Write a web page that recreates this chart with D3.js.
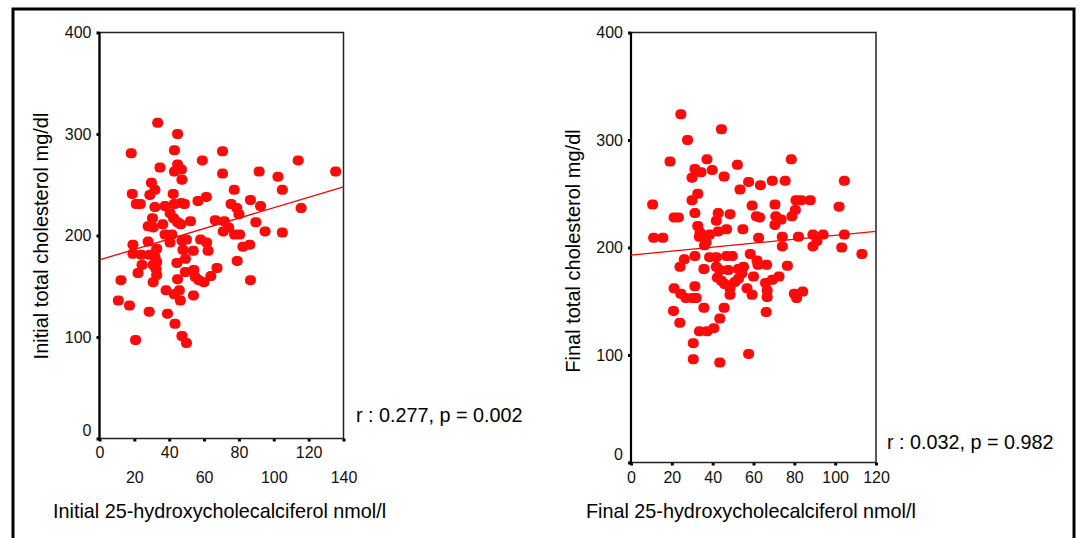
<!DOCTYPE html>
<html>
<head>
<meta charset="utf-8">
<script src="https://cdn.jsdelivr.net/npm/d3@7"></script>
<style>
  body { margin: 0; background: #fff; }
  svg { display: block; font-family: "Liberation Sans", Arial, sans-serif; }
</style>
</head>
<body>
<svg id="drawing_region"></svg>
<script>
// initial measurement: 25-hydroxycholecalciferol (nmol/l) vs total cholesterol (mg/dl)
const initVitD = [33.4, 44.8, 18.2, 43, 70.6, 59, 114, 34.7, 44.8, 47, 43, 70.6, 91.6, 102.4, 135.5, 47.3, 29.8, 31.8, 18.8, 42.3,
  77.3, 104.9, 28.9, 61.3, 56.5, 86.6, 21.1, 23.4, 31.8, 37.6, 42.9, 47, 48.7, 75.5, 78.8, 92.4, 80, 115.7, 40.5, 30.4,
  42.5, 44.8, 46.6, 52.2, 66.4, 71.6, 89.7, 27.9, 30.8, 36.3, 74.1, 71, 95, 104.9, 37.6, 41.5, 77.5, 80.4, 19.2, 27.9,
  32.8, 40.5, 47.3, 49.9, 58, 61.5, 62.3, 53.8, 47.9, 82.3, 86.2, 19.2, 24, 28.9, 31.8, 49.3, 44.4, 24.4, 30.8, 32.8,
  79, 22.1, 32.4, 32.8, 67.4, 49.3, 54.1, 44.8, 55, 57, 59.9, 63.9, 12.3, 30.8, 86.6, 38.2, 42.9, 45.8, 53.9, 46.4,
  10.8, 17.2, 28.5, 39, 43.3, 47.3, 49.9, 20.7];
const initChol = [311, 300, 281, 284, 283, 274, 274, 267, 270, 265, 263, 261, 263, 258, 263, 255, 252, 245, 241, 241,
  245, 245, 240, 238, 234, 235, 231, 231, 228, 229, 231, 232, 231, 231, 227, 229, 221, 227, 222, 217,
  217, 213, 211, 214, 215, 214, 213, 209, 208, 211, 208, 204, 204, 203, 201, 201, 201, 201, 191, 194,
  187, 193, 195, 196, 196, 193, 185, 185, 186, 189, 191, 182, 181, 181, 179, 177, 173, 171, 171, 174,
  175, 163, 167, 161, 168, 164, 166, 157, 159, 156, 154, 160, 156, 154, 156, 146, 142, 146, 141, 136,
  136, 131, 125, 123, 113, 101, 94, 97];

// final measurement
const finalVitD = [24.4, 44.3, 27.7, 19.1, 37.2, 52.1, 78.5, 31.3, 34.3, 39.8, 45.6, 29.9, 57.6, 63.4, 69.2, 75.5, 104.5, 53.4, 32.7, 29.9,
  10.6, 59.3, 70.5, 80.8, 83.3, 87.8, 101.9, 80.5, 31.3, 21.1, 23.2, 42.7, 48.5, 41.8, 61.4, 63, 70.9, 73.5, 78.8, 32.7,
  33.8, 38.5, 42.7, 46.8, 54.8, 70.5, 11.1, 15.6, 62.5, 74.1, 82, 89.1, 94.1, 104.5, 33.5, 36.8, 36, 74.1, 89.1, 91.1,
  103.2, 113.1, 26.1, 24, 31.3, 35.7, 38.5, 41.8, 46.8, 49.6, 58.4, 61.7, 62.2, 66.4, 76.6, 41.8, 43.5, 47.6, 52.6, 55.1,
  54.3, 60, 42.3, 44.3, 45.9, 50.9, 52.6, 65.9, 69.2, 72.5, 31.3, 21.1, 48.5, 48.5, 56.8, 59.3, 66.7, 66.7, 24.4, 26.9,
  30.2, 31.9, 80, 81.1, 84.1, 35.7, 45.6, 20.8, 43.5, 66.2, 23.9, 33.5, 37.3, 40.6, 30.5, 30.5, 43.5, 57.6];
const finalChol = [324, 310, 300, 280, 282, 277, 282, 273, 270, 272, 266, 265, 261, 258, 262, 262, 262, 254, 250, 244,
  240, 239, 240, 244, 244, 244, 238, 235, 232, 228, 228, 232, 231, 225, 229, 228, 229, 226, 229, 220,
  214, 212, 215, 217, 217, 221, 209, 209, 209, 210, 210, 212, 212, 212, 210, 205, 202, 201, 201, 206,
  200, 194, 189, 182, 192, 180, 191, 191, 192, 192, 194, 188, 184, 184, 183, 182, 179, 179, 180, 182,
  176, 173, 172, 169, 166, 168, 171, 167, 170, 173, 164, 162, 162, 156, 162, 156, 160, 154, 157, 153,
  153, 153, 157, 153, 159, 144, 144, 141, 134, 140, 130, 122, 122, 125, 111, 96, 93, 101];

// fitted lines: [value at x=0, value at x max]
const initFit = [176, 248];
const finalFit = [193, 215];

const yTicks = [0, 100, 200, 300, 400];
const initXTicks = [0, 20, 40, 60, 80, 100, 120, 140];
const finalXTicks = [0, 20, 40, 60, 80, 100, 120];

const svg = d3.select('#drawing_region')
    .attr('width', 1080)
    .attr('height', 538);

// outer frame
svg.append('rect')
    .attr('x', 13).attr('y', 9)
    .attr('width', 1061).attr('height', 600)
    .attr('fill', 'none')
    .attr('stroke', 'black')
    .attr('stroke-width', 3);

class ScatterPlot {

    constructor( config, xs, ys, fit ) {
        this.config = config;
        this.data = xs.map( (x, i) => ({ x: x, y: ys[i] }) );
        this.fit = fit;
        this.init();
    }

    init() {
        let self = this;
        const c = self.config;

        self.g = svg.append('g');

        self.xscale = d3.scaleLinear()
            .domain([0, c.xmax])
            .range([c.left, c.right]);

        self.yscale = d3.scaleLinear()
            .domain([0, 400])
            .range([c.bottom, c.top]);
    }

    render() {
        let self = this;
        const c = self.config;

        // y axis with small square ticks
        const yaxis = self.g.append('g')
            .attr('transform', `translate(${c.left},0)`)
            .call( d3.axisLeft(self.yscale).tickValues(yTicks).tickSize(3).tickPadding(5) );
        yaxis.select('.domain').remove();
        yaxis.selectAll('.tick line').attr('stroke-width', 3);
        yaxis.selectAll('text')
            .attr('font-size', 16)
            .attr('fill', '#111')
            .attr('dy', d => d == 0 ? '-0.2em' : '0.32em');

        // x axis
        const xaxis = self.g.append('g')
            .attr('transform', `translate(0,${c.bottom})`)
            .call( d3.axisBottom(self.xscale).tickValues(c.xticks).tickSize(3).tickPadding(0) );
        xaxis.select('.domain').remove();
        xaxis.selectAll('.tick line').attr('stroke-width', 3);
        xaxis.selectAll('text')
            .attr('font-size', 16)
            .attr('fill', '#111')
            .attr('y', (d, i) => c.stagger && i % 2 == 1 ? 33 : c.labelY);

        // plot box
        self.g.append('rect')
            .attr('x', c.left).attr('y', c.top)
            .attr('width', c.right - c.left)
            .attr('height', c.bottom - c.top)
            .attr('fill', 'none')
            .attr('stroke', '#222')
            .attr('stroke-width', 1.5);
        self.g.append('line')
            .attr('x1', c.left).attr('x2', c.left)
            .attr('y1', c.top).attr('y2', c.bottom)
            .attr('stroke', 'black')
            .attr('stroke-width', 2.2);

        // points
        self.g.selectAll('.pt')
            .data(self.data)
            .enter()
            .append('rect')
            .attr('class', 'pt')
            .attr('x', d => self.xscale(d.x) - 5.5)
            .attr('y', d => self.yscale(d.y) - 5)
            .attr('width', 11)
            .attr('height', 10)
            .attr('rx', 4.5)
            .attr('fill', '#ff0a0a');

        // fit line
        self.g.append('line')
            .attr('x1', self.xscale(0)).attr('y1', self.yscale(self.fit[0]))
            .attr('x2', self.xscale(c.xmax)).attr('y2', self.yscale(self.fit[1]))
            .attr('stroke', '#ff0000')
            .attr('stroke-width', 1.3);

        // titles
        self.g.append('text')
            .attr('transform', `translate(${c.ytitleX},${c.ytitleY}) rotate(-90)`)
            .attr('text-anchor', 'middle')
            .attr('font-size', 20)
            .text(c.ytitle);

        self.g.append('text')
            .attr('x', c.xtitleX).attr('y', 518)
            .attr('font-size', 19.8)
            .text(c.xtitle);

        self.g.append('text')
            .attr('x', c.statX).attr('y', c.statY)
            .attr('font-size', 19.8)
            .text(c.stat);
    }
}

const left = new ScatterPlot({
    left: 99.5, right: 343.5, top: 32.5, bottom: 438.5,
    xmax: 140, xticks: initXTicks, stagger: true, labelY: 8,
    ytitle: 'Initial total cholesterol mg/dl', ytitleX: 48, ytitleY: 236,
    xtitle: 'Initial 25-hydroxycholecalciferol nmol/l', xtitleX: 53,
    stat: 'r : 0.277, p = 0.002', statX: 356, statY: 422
}, initVitD, initChol, initFit);
left.render();

const right = new ScatterPlot({
    left: 631, right: 876, top: 32.5, bottom: 462.5,
    xmax: 120, xticks: finalXTicks, stagger: false, labelY: 9,
    ytitle: 'Final total cholesterol mg/dl', ytitleX: 580, ytitleY: 251,
    xtitle: 'Final 25-hydroxycholecalciferol nmol/l', xtitleX: 586,
    stat: 'r : 0.032, p = 0.982', statX: 887, statY: 449
}, finalVitD, finalChol, finalFit);
right.render();
</script>
</body>
</html>
